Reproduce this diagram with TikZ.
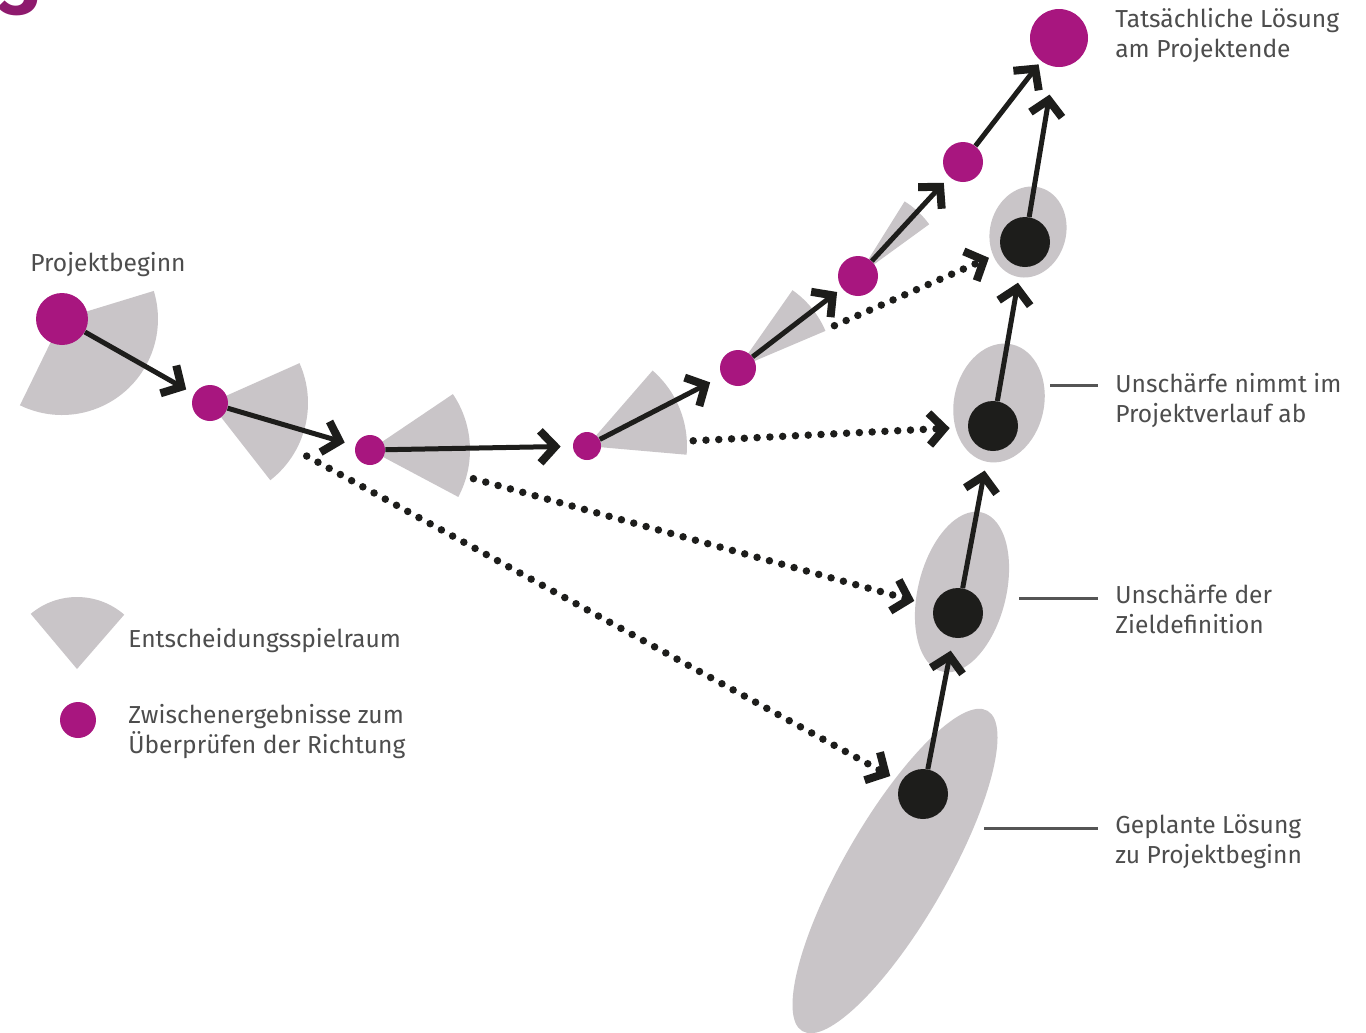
\documentclass[tikz,border=0pt]{standalone}
\usepackage{fontspec}
\setmainfont{Fira Sans}
\usetikzlibrary{arrows.meta}
\definecolor{mag}{HTML}{A8167F}
\definecolor{plum}{HTML}{8E1A6D}
\definecolor{ink}{HTML}{1D1D1B}
\definecolor{haze}{HTML}{C9C5C8}
\definecolor{txt}{HTML}{4D4D4D}
\definecolor{rule}{HTML}{555555}
\pgfdeclarelayer{back}
\pgfsetlayers{back,main}
\begin{document}
\begin{tikzpicture}[x=0.02cm,y=-0.02cm,
  dotm/.style={circle,fill=mag,inner sep=0pt,minimum size=#1},
  dotk/.style={circle,fill=ink,inner sep=0pt,minimum size=1cm},
  field/.style={fill=haze},
  barb/.style={-{Straight Barb[length=0.3cm,width=0.64cm,line width=0.16cm]}},
  arr/.style={barb,line width=0.1cm,draw=ink},
  dotted path/.style={barb,line width=0.15cm,draw=ink,line cap=round,dash pattern=on 0pt off 0.256cm},
  lbl/.style={draw=rule,line width=0.06cm},
  note/.style={anchor=base west,inner sep=0pt,text=txt,align=left,
    font=\fontsize{14}{17}\selectfont}]
\useasboundingbox (0,0) rectangle (1366,1032);
\clip (0,0) rectangle (1366,1032);

% centres of the intermediate results and of the planned solutions
\coordinate (p0) at (62,319);
\coordinate (p1) at (210,403);
\coordinate (p2) at (370,450);
\coordinate (p3) at (587,446);
\coordinate (p4) at (738,368);
\coordinate (p5) at (858,276);
\coordinate (p6) at (963,162);
\coordinate (p7) at (1059,38);
\coordinate (b1) at (923,794);
\coordinate (b2) at (958,613);
\coordinate (b3) at (993,426);
\coordinate (b4) at (1025,242);

\begin{pgfonlayer}{back}
  \fill[white] (0,0) rectangle (1366,1032);
  % decision ranges
  \fill[field] (p0) -- ++(-116:1.92cm) arc[start angle=-116,end angle=17,radius=1.92cm] -- cycle;
  \fill[field] (p1) -- ++(-52:1.96cm) arc[start angle=-52,end angle=24,radius=1.96cm] -- cycle;
  \fill[field] (p2) -- ++(-28:2cm) arc[start angle=-28,end angle=34,radius=2cm] -- cycle;
  \fill[field] (p3) -- ++(-5:2cm) arc[start angle=-5,end angle=49,radius=2cm] -- cycle;
  \fill[field] (p4) -- ++(23:1.9cm) arc[start angle=23,end angle=55,radius=1.9cm] -- cycle;
  \fill[field] (p5) -- ++(36:1.76cm) arc[start angle=36,end angle=58,radius=1.76cm] -- cycle;
  % vagueness of the target
  \fill[field,rotate around={60:(895,871)}] (895,871) ellipse[x radius=3.7cm,y radius=1.02cm];
  \fill[field,rotate around={76:(962,592)}] (962,592) ellipse[x radius=1.64cm,y radius=0.88cm];
  \fill[field,rotate around={78:(999,403)}] (999,403) ellipse[x radius=1.2cm,y radius=0.9cm];
  \fill[field,rotate around={75:(1028,232)}] (1028,232) ellipse[x radius=0.92cm,y radius=0.76cm];
  % legend range
  \fill[field] (77,669) -- ++(49:1.44cm) arc[start angle=49,end angle=130,radius=1.44cm] -- cycle;
\end{pgfonlayer}

% partial figure number in the corner
\node[anchor=base west,inner sep=0pt,text=plum,font=\fontsize{46}{46}\bfseries\selectfont] (num) at (-2,14) {3};

% intermediate results
\node[dotm=1.04cm] (P0) at (p0) {};
\node[dotm=0.72cm] (P1) at (p1) {};
\node[dotm=0.6cm]  (P2) at (p2) {};
\node[dotm=0.56cm] (P3) at (p3) {};
\node[dotm=0.72cm] (P4) at (p4) {};
\node[dotm=0.8cm]  (P5) at (p5) {};
\node[dotm=0.8cm]  (P6) at (p6) {};
\node[dotm=1.16cm] (P7) at (p7) {};

% planned solutions
\node[dotk] (B1) at (b1) {};
\node[dotk] (B2) at (b2) {};
\node[dotk] (B3) at (b3) {};
\node[dotk] (B4) at (b4) {};

% actual course of the project
\draw[arr,shorten >=0.18cm] (P0) -- (P1);
\draw[arr,shorten >=0.22cm] (P1) -- (P2);
\draw[arr,shorten >=0.24cm] (P2) -- (P3);
\draw[arr,shorten >=0.26cm] (P3) -- (P4);
\draw[arr,shorten >=0.12cm] (P4) -- (P5);
\draw[arr,shorten >=0.16cm] (P5) -- (P6);
\draw[arr,shorten >=0.08cm] (P6) -- (P7);

% refinement of the planned solution
\draw[arr,shorten >=0.26cm] (B1) -- (B2);
\draw[arr,shorten >=0.40cm] (B2) -- (B3);
\draw[arr,shorten >=0.32cm] (B3) -- (B4);
\draw[arr,shorten >=0.56cm] (B4) -- (P7);

% checks against the plan
\draw[dotted path,shorten <=1.84cm,shorten >=0.24cm] (P1) -- (B1);
\draw[dotted path,shorten <=1.84cm,shorten >=0.40cm] (P2) -- (B2);
\draw[dotted path,shorten <=1.84cm,shorten >=0.36cm] (P3) -- (B3);
\draw[dotted path,shorten <=1.74cm,shorten >=0.28cm] (P4) -- (B4);

% labels (two-line labels are placed by the baseline of their last line)
\node[note] (tBeg) at (30,271) {Projektbeginn};
\node[note] (tEnd) at (1115,57) {Tatsächliche Lösung\\am Projektende};
\node[note] (tLess) at (1115,422) {Unschärfe nimmt im\\Projektverlauf ab};
\node[note] (tDef) at (1115,633) {Unschärfe der\\Zieldefinition};
\node[note] (tPlan) at (1115,863) {Geplante Lösung\\zu Projektbeginn};

\coordinate (l1a) at (1050,385); \coordinate (l1b) at (1098,385);
\coordinate (l2a) at (1019,598); \coordinate (l2b) at (1098,598);
\coordinate (l3a) at (984,828);  \coordinate (l3b) at (1098,828);
\draw[lbl] (l1a) -- (l1b);
\draw[lbl] (l2a) -- (l2b);
\draw[lbl] (l3a) -- (l3b);

% legend
\node[dotm=0.72cm] (Lm) at (78,720) {};
\node[note] (tRange) at (128,647) {Entscheidungsspielraum};
\node[note] (tMark) at (128,753) {Zwischenergebnisse zum\\Überprüfen der Richtung};
\end{tikzpicture}
\end{document}
